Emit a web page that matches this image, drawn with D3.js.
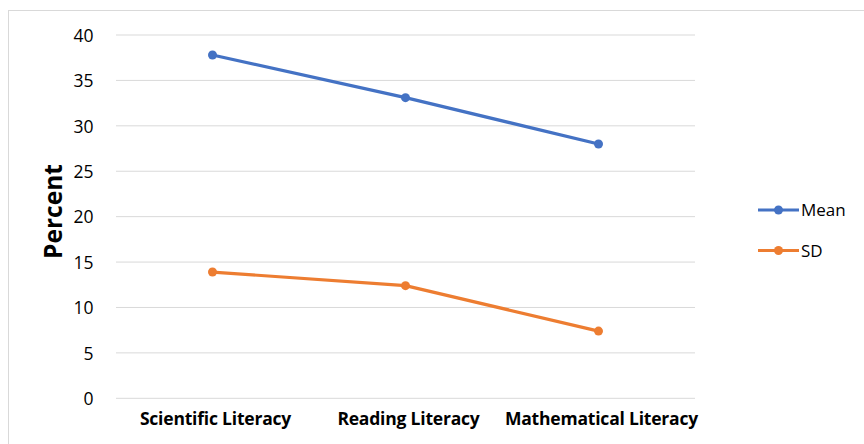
<!DOCTYPE html>
<html>
<head>
<meta charset="utf-8">
<script src="https://cdn.jsdelivr.net/npm/d3@7"></script>
<style>
  html, body { margin: 0; padding: 0; background: #fff; }
  svg { display: block; font-family: "Open Sans", Lato, sans-serif; }
</style>
</head>
<body>
<svg id="chart" width="864" height="444"></svg>
<script>
// Literacy domains and their statistics (percent)
const categories = ["Scientific Literacy", "Reading Literacy", "Mathematical Literacy"];
const meanValues = [37.8, 33.1, 28.0];
const sdValues = [13.9, 12.4, 7.4];
const yTicks = [0, 5, 10, 15, 20, 25, 30, 35, 40];
const seriesNames = ["Mean", "SD"];
const seriesColors = ["#4472C4", "#ED7D31"];

const FONT = "'Open Sans', Lato, sans-serif";
const svg = d3.select("#chart");

// Chart area frame
svg.append("rect")
  .attr("x", 8.5).attr("y", 10.5)
  .attr("width", 900).attr("height", 500)
  .attr("fill", "#fff").attr("stroke", "#d9d9d9").attr("stroke-width", 1);

const plot = { left: 116, right: 695, top: 35, bottom: 398.3 };

const x = d3.scaleBand().domain(categories).range([plot.left, plot.right]);
const y = d3.scaleLinear().domain([0, 40]).range([plot.bottom, plot.top]);

// Horizontal gridlines
svg.append("g")
  .selectAll("line")
  .data(yTicks)
  .join("line")
  .attr("x1", plot.left).attr("x2", plot.right)
  .attr("y1", d => y(d)).attr("y2", d => y(d))
  .attr("stroke", "#d9d9d9").attr("stroke-width", 1);

// Y axis tick labels
const yAxis = d3.axisLeft(y).tickValues(yTicks).tickSize(0).tickPadding(0);
const yg = svg.append("g").attr("transform", `translate(${plot.left - 22.5},0)`).call(yAxis);
yg.select(".domain").remove();
yg.selectAll("text")
  .attr("font-family", FONT)
  .attr("font-size", 17.5).attr("fill", "#000")
  .attr("dy", "0.36em");

// X axis category labels
const xAxis = d3.axisBottom(x).tickSize(0).tickPadding(0);
const xg = svg.append("g").attr("transform", `translate(3,${plot.bottom + 14})`).call(xAxis);
xg.select(".domain").remove();
xg.selectAll("text")
  .attr("font-family", FONT)
  .attr("font-size", 17.5).attr("font-weight", "bold").attr("fill", "#000")
  .attr("letter-spacing", "-0.2px");

// Y axis title
svg.append("text")
  .attr("transform", `translate(61.5,${211.5}) rotate(-90)`)
  .attr("text-anchor", "middle")
  .attr("font-family", FONT)
  .attr("font-size", 24.5).attr("font-weight", "bold").attr("fill", "#000")
  .text("Percent");

const series = [meanValues, sdValues];
const line = d3.line()
  .x((d, i) => x(categories[i]) + x.bandwidth() / 2)
  .y(d => y(d));

series.forEach((vals, si) => {
  svg.append("path")
    .datum(vals)
    .attr("d", line)
    .attr("fill", "none")
    .attr("stroke", seriesColors[si])
    .attr("stroke-width", 3.2)
    .attr("stroke-linejoin", "round")
    .attr("stroke-linecap", "round");
  svg.append("g")
    .selectAll("circle")
    .data(vals)
    .join("circle")
    .attr("cx", (d, i) => x(categories[i]) + x.bandwidth() / 2)
    .attr("cy", d => y(d))
    .attr("r", 4.5)
    .attr("fill", seriesColors[si]);
});

// Legend
const legend = svg.append("g");
seriesNames.forEach((name, i) => {
  const ly = 210 + i * 40.5;
  legend.append("line")
    .attr("x1", 758).attr("x2", 799)
    .attr("y1", ly).attr("y2", ly)
    .attr("stroke", seriesColors[i]).attr("stroke-width", 3.2);
  legend.append("circle")
    .attr("cx", 778.5).attr("cy", ly).attr("r", 4.5)
    .attr("fill", seriesColors[i]);
  legend.append("text")
    .attr("x", 801).attr("y", ly)
    .attr("dy", "0.36em")
    .attr("font-family", FONT)
    .attr("font-size", 17).attr("fill", "#000")
    .text(name);
});
</script>
</body>
</html>
